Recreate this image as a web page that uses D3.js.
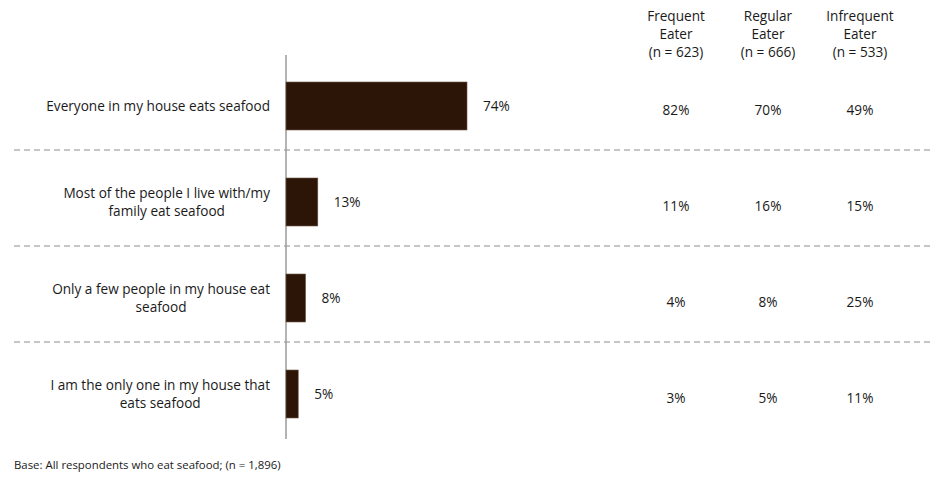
<!DOCTYPE html>
<html><head><meta charset="utf-8">
<script src="https://cdn.jsdelivr.net/npm/d3@7"></script>
<style>body{margin:0;background:#fff}svg{display:block}text{font-family:"Open Sans",sans-serif;fill:#1a1a1a}</style>
</head><body><svg id="c" width="936" height="480"></svg>
<script>
const categories = [
  ["Everyone in my house eats seafood"],
  ["Most of the people I live with/my", "family eat seafood"],
  ["Only a few people in my house eat", "seafood"],
  ["I am the only one in my house that", "eats seafood"]
];
const totalValues = [74, 13, 8, 5];
const segments = [
  ["Frequent", "Eater", "(n = 623)"],
  ["Regular", "Eater", "(n = 666)"],
  ["Infrequent", "Eater", "(n = 533)"]
];
const segmentValues = [
  [82, 11, 4, 3],
  [70, 16, 8, 5],
  [49, 15, 25, 11]
];
const footnote = "Base: All respondents who eat seafood; (n = 1,896)";

const svg = d3.select("#c");
const fs = 13.6;
const x = d3.scaleLinear().domain([0, 100]).range([286, 530.6]);
const y = d3.scaleBand().domain(d3.range(categories.length)).range([58, 442]).paddingInner(0.5).paddingOuter(0.25);
const colX = d3.scalePoint().domain(d3.range(segments.length)).range([676, 860]);

// dashed separators
for (let i = 1; i < categories.length; i++) {
  const yy = y(i) - y.step() * y.paddingInner() / 2 - 4;
  svg.append("line").attr("x1", 14).attr("x2", 930).attr("y1", yy).attr("y2", yy)
    .attr("stroke", "#8c8c8c").attr("stroke-width", 1).attr("stroke-dasharray", "6,4");
}

// axis line
svg.append("line").attr("x1", x(0)).attr("x2", x(0)).attr("y1", 55).attr("y2", 439)
  .attr("stroke", "#9a9a9a").attr("stroke-width", 1.5);

// bars
svg.selectAll("rect.bar").data(totalValues).join("rect").attr("class", "bar")
  .attr("x", x(0)).attr("y", (d, i) => y(i)).attr("width", d => x(d) - x(0)).attr("height", y.bandwidth())
  .attr("fill", "#2c1507").attr("stroke", "#6b5a4e").attr("stroke-width", 0.6);

// value labels
svg.selectAll("text.val").data(totalValues).join("text").attr("class", "val")
  .attr("x", d => x(d) + 16).attr("y", (d, i) => y(i) + y.bandwidth() / 2)
  .attr("dy", "0.35em").attr("font-size", fs).text(d => d + "%");

// category labels: centered block, right edge at 270
const lh = 18.5;
categories.forEach((lines, i) => {
  const cy = y(i) + y.bandwidth() / 2;
  const g = svg.append("g");
  const ts = lines.map((t, j) => g.append("text").attr("font-size", fs)
    .attr("y", cy + (j - (lines.length - 1) / 2) * lh).attr("dy", "0.35em").text(t));
  const maxW = d3.max(ts, t => t.node().getComputedTextLength());
  ts.forEach(t => t.attr("x", 270 - maxW / 2).attr("text-anchor", "middle"));
});

// segment headers
segments.forEach((lines, k) => {
  lines.forEach((t, j) => {
    svg.append("text").attr("x", colX(k)).attr("y", 16 + j * 18).attr("dy", "0.35em")
      .attr("text-anchor", "middle").attr("font-size", fs).text(t);
  });
  segmentValues[k].forEach((v, i) => {
    svg.append("text").attr("x", colX(k)).attr("y", y(i) + y.bandwidth() / 2 + 4).attr("dy", "0.35em")
      .attr("text-anchor", "middle").attr("font-size", fs).text(v + "%");
  });
});

svg.append("text").attr("x", 14).attr("y", 465).attr("dy", "0.35em").attr("font-size", 11.4).text(footnote);
</script></body></html>
